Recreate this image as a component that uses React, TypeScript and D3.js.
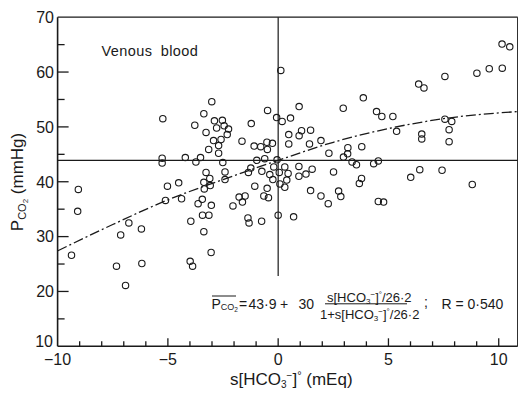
import React from "react";
import * as d3 from "d3";

// s[HCO3-]° (mEq) values of each observation
const sHCO3: number[] = [
  -9.06, -9.09, -9.37, -5.26, -5.26, -5.23, -4.21, -5.02, -4.51, -5.11,
  -4.38, -6.77, -7.14, -6.2, -7.33, -6.18, -6.92, -3.96, -3.99, -3.88,
  -3.63, -3.44, -3.37, -3.43, -3.14, -3.04, -3.03, -2.05, -1.77, -1.62,
  -1.5, -1.37, -1.32, -0.75, -0.65, -0.44, 0.0, 0.7, -3.35, -0.5,
  -3.01, -3.37, -3.78, -2.89, -2.53, -2.79, -2.45, -2.25, -3.27, -2.31,
  -2.93, -2.59, -2.7, -3.15, -2.7, -1.64, -1.22, -0.48, -0.07, -1.09,
  -0.79, -0.51, -0.26, -0.49, -3.73, -3.52, -2.51, -0.97, -0.61, -1.24,
  -1.35, -0.74, -0.2, 0.05, 0.3, -0.38, -0.24, 0.08, -1.06, -3.27,
  -2.41, -2.41, -3.37, -3.1, -3.08, -0.05, 0.12, 0.95, 3.86, 2.95,
  4.46, 4.7, 5.2, 0.18, 0.56, 0.48, 0.95, 1.06, 1.47, 0.48,
  1.42, 1.94, 5.37, 2.3, 3.16, 3.15, 2.96, 3.79, 3.35, 3.55,
  4.33, 4.54, 0.94, 0.45, 0.39, 0.94, 1.26, 1.54, 2.51, 0.3,
  1.47, 1.94, 2.74, 2.84, 3.78, 3.68, 2.27, 4.54, 4.78, 10.15,
  10.5, 9.01, 9.57, 10.16, 7.56, 6.37, 6.61, 7.56, 7.87, 7.75,
  7.75, 6.51, 6.51, 6.42, 6.01, 7.43, 8.8,
];
// PCO2 (mmHg) of each observation
const pCO2: number[] = [
  38.6, 34.6, 26.6, 44.3, 43.4, 51.5, 44.4, 39.2, 39.8, 36.6,
  36.9, 32.5, 30.3, 31.4, 24.6, 25.1, 21.1, 32.8, 25.5, 24.6,
  36.0, 36.8, 30.9, 33.9, 33.9, 27.1, 35.7, 35.6, 37.2, 36.3,
  37.4, 33.4, 32.5, 32.8, 37.4, 37.1, 33.9, 33.6, 38.7, 38.8,
  54.6, 52.4, 50.3, 51.1, 51.2, 49.8, 50.2, 49.6, 49.0, 48.6,
  47.5, 47.7, 46.6, 45.9, 45.2, 47.4, 50.6, 53.0, 51.7, 46.5,
  46.4, 47.2, 47.0, 45.9, 43.6, 44.4, 43.5, 43.9, 44.2, 42.5,
  41.7, 41.9, 42.7, 41.7, 42.7, 41.3, 40.4, 39.6, 39.2, 41.7,
  41.8, 40.4, 39.9, 40.6, 39.3, 44.0, 60.3, 53.7, 55.3, 53.4,
  52.8, 51.9, 51.9, 51.0, 51.6, 48.6, 48.4, 49.3, 49.4, 46.9,
  46.9, 47.5, 49.2, 45.2, 46.2, 45.1, 44.5, 46.4, 43.6, 43.1,
  43.3, 43.8, 42.8, 41.5, 40.3, 41.0, 41.4, 42.3, 41.8, 39.0,
  38.4, 37.4, 38.3, 37.3, 40.6, 39.7, 36.0, 36.4, 36.3, 65.1,
  64.6, 59.8, 60.6, 60.7, 59.2, 57.8, 57.1, 51.4, 51.0, 49.5,
  47.3, 48.7, 47.8, 42.2, 40.8, 42.1, 39.5,
];

// fitted curve
const curveX: number[] = [-10, -7.5, -5, -2.5, 0, 2.5, 5, 7.5, 10.86];
const curveY: number[] = [27.4, 32.2, 36.7, 40.4, 43.9, 47.2, 49.7, 51.5, 52.8];

const meanP = 43.9;
const vLineBottom = 22.8;

const xTickLabels: number[] = [-10, -5, 0, 5, 10];
const yTickLabels: number[] = [10, 20, 30, 40, 50, 60, 70];
const xMinor: number[] = d3.range(-9, 11);
const yMinor: number[] = d3.range(15, 70, 5);

const fmt = (v: number) => (v < 0 ? "\u2212" + Math.abs(v) : String(v));

export default function App() {
  const x = d3.scaleLinear().domain([-10, 10.86]).range([57.6, 517.7]);
  const y = d3.scaleLinear().domain([10, 70]).range([346.3, 17.2]);
  const ink = "#1a1a1a";
  const font = "'Liberation Sans', Arial, sans-serif";

  const line = d3
    .line<number>()
    .x((_, i) => x(curveX[i]))
    .y((_, i) => y(curveY[i]))
    .curve(d3.curveMonotoneX);

  const x0 = x.range()[0];
  const x1 = x.range()[1];
  const yb = y.range()[0];
  const yt = y.range()[1];

  return (
    <svg
      width={518}
      height={393}
      style={{ position: "absolute", left: 0, top: 0, background: "#fff" }}
      fontFamily={font}
    >
      {/* frame */}
      <line x1={x0} x2={x1} y1={yt} y2={yt} stroke={ink} strokeWidth={1.3} />
      <line x1={x1} x2={x1} y1={yt} y2={yb} stroke={ink} strokeWidth={1.2} />
      <line x1={x0} x2={x0} y1={yt} y2={yb} stroke={ink} strokeWidth={1.6} />
      <line x1={x0} x2={x1} y1={yb} y2={yb} stroke={ink} strokeWidth={1.6} />

      {/* x ticks */}
      {xMinor.map((v) => (
        <line
          key={"xt" + v}
          x1={x(v)}
          x2={x(v)}
          y1={yb}
          y2={yb - (v % 5 === 0 ? 8 : 5)}
          stroke={ink}
          strokeWidth={1.3}
        />
      ))}
      {/* y ticks */}
      {yMinor.map((v) => (
        <line
          key={"yt" + v}
          x1={x0}
          x2={x0 + (v % 10 === 0 ? 11 : 7)}
          y1={y(v)}
          y2={y(v)}
          stroke={ink}
          strokeWidth={1.3}
        />
      ))}

      {/* tick labels */}
      {xTickLabels.map((v) => (
        <text key={"xl" + v} x={x(v)} y={365} textAnchor="middle" fontSize={16} fill={ink}>
          {fmt(v)}
        </text>
      ))}
      {yTickLabels.map((v) => (
        <text
          key={"yl" + v}
          x={v === 10 ? 53 : 54}
          y={v === 10 ? y(v) + 0.5 : y(v) + 5.8}
          textAnchor="end"
          fontSize={16}
          fill={ink}
        >
          {v}
        </text>
      ))}

      {/* reference lines */}
      <line x1={x0} x2={x1} y1={y(meanP)} y2={y(meanP)} stroke={ink} strokeWidth={1.2} />
      <line x1={x(0)} x2={x(0)} y1={yt} y2={y(vLineBottom)} stroke={ink} strokeWidth={1.2} />

      {/* fitted curve */}
      <path
        d={line(curveX) || ""}
        fill="none"
        stroke={ink}
        strokeWidth={1.3}
        strokeDasharray="10,3,2,3"
      />

      {/* points */}
      {sHCO3.map((v, i) => (
        <circle
          key={"p" + i}
          cx={x(v)}
          cy={y(pCO2[i])}
          r={3.2}
          fill="none"
          stroke={ink}
          strokeWidth={1.1}
        />
      ))}

      {/* annotation */}
      <text x={101.5} y={56} fontSize={14.5} fill={ink} letterSpacing={0.4} wordSpacing={4}>
        Venous blood
      </text>

      {/* formula */}
      <g fill={ink}>
        <text x={211.5} y={308.5} fontSize={14}>
          P
          <tspan fontSize={9} dy={1.5}>CO</tspan>
          <tspan fontSize={6.5} dy={1.5}>2</tspan>
        </text>
        <line x1={212} x2={236} y1={296} y2={296} stroke={ink} strokeWidth={1} />
        <text x={239} y={308.5} fontSize={14}>=</text>
        <text x={248.5} y={308.5} fontSize={14}>43·9</text>
        <text x={280} y={308.5} fontSize={14}>+</text>
        <text x={298.5} y={308.5} fontSize={14}>30</text>
        <text x={327} y={301.5} fontSize={13}>
          s[HCO
          <tspan fontSize={8} dy={2}>3</tspan>
          <tspan fontSize={8} dy={-7}>−</tspan>
          <tspan fontSize={13} dy={5}>]</tspan>
          <tspan fontSize={8} dy={-5}>°</tspan>
          <tspan fontSize={13} dy={5}>/26·2</tspan>
        </text>
        <line x1={325} x2={407} y1={303.8} y2={303.8} stroke={ink} strokeWidth={1} />
        <text x={320} y={318.5} fontSize={13}>
          1+s[HCO
          <tspan fontSize={8} dy={2}>3</tspan>
          <tspan fontSize={8} dy={-7}>−</tspan>
          <tspan fontSize={13} dy={5}>]</tspan>
          <tspan fontSize={8} dy={-5}>°</tspan>
          <tspan fontSize={13} dy={5}>/26·2</tspan>
        </text>
        <text x={424} y={307} fontSize={14}>;</text>
        <text x={441.5} y={308.5} fontSize={14}>R = 0·540</text>
      </g>

      {/* axis titles */}
      <text x={230} y={385} fontSize={17} fill={ink}>
        s[HCO
        <tspan fontSize={10} dy={3}>3</tspan>
        <tspan fontSize={10} dy={-9}>−</tspan>
        <tspan fontSize={17} dy={6}>]</tspan>
        <tspan fontSize={11} dy={-6}>°</tspan>
        <tspan fontSize={17} dy={6}>{"\u00a0(mEq)"}</tspan>
      </text>
      <text transform="translate(23,182) rotate(-90)" textAnchor="middle" fontSize={17} fill={ink}>
        P
        <tspan fontSize={11} dy={3}>CO</tspan>
        <tspan fontSize={8} dy={2}>2</tspan>
        <tspan fontSize={17} dy={-5}>{"\u00a0(mmHg)"}</tspan>
      </text>
    </svg>
  );
}
